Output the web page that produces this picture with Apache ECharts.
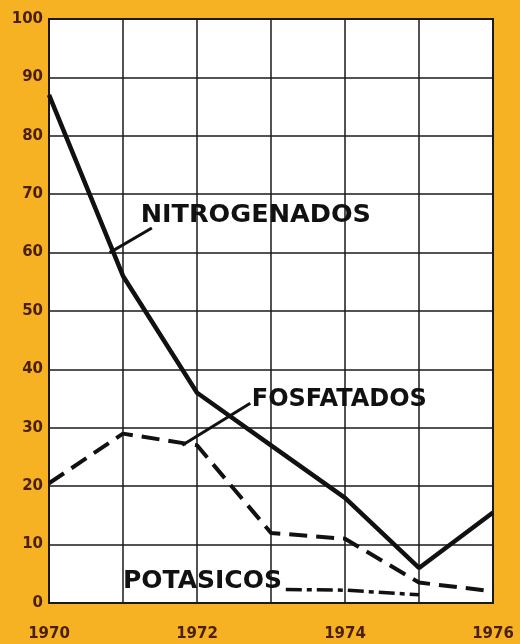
<!DOCTYPE html>
<html><head><meta charset="utf-8">
<script src="https://cdn.jsdelivr.net/npm/echarts@6/dist/echarts.min.js"></script>
<style>html,body{margin:0;padding:0;background:#F6B223;}#c{width:520px;height:644px;}</style>
</head><body><div id="c"></div>
<script>
var years = [1970, 1971, 1972, 1973, 1974, 1975, 1976];
var nitrogenados = [87, 56, 36, 27, 18, 6, 15.5];
var fosfatados = [20.5, 29, 27, 12, 11, 3.5, 2];
var potasicosYears = [1973.2, 1974, 1975];
var potasicos = [2.3, 2.2, 1.4];
var xTickLabels = ['1970', '', '1972', '', '1974', '', '1976'];
var yTicks = [0, 10, 20, 30, 40, 50, 60, 70, 80, 90, 100];

function pairs(xs, ys) { return xs.map(function (x, i) { return [x, ys[i]]; }); }

var chart = echarts.init(document.getElementById('c'), null, {renderer: 'canvas'});
var labelColor = '#4a1f08';
var option = {
  backgroundColor: '#F6B223',
  animation: false,
  grid: {left: 49, top: 19, right: 27, bottom: 41, show: true, backgroundColor: '#ffffff', borderColor: '#1a1a1a', borderWidth: 2},
  xAxis: {
    type: 'value', min: 1970, max: 1976, interval: 1,
    axisLine: {show: false}, axisTick: {show: false},
    splitLine: {show: true, lineStyle: {color: '#1a1a1a', width: 1.5}},
    axisLabel: {
      margin: 24, color: labelColor, fontSize: 15, fontWeight: 'bold', fontFamily: 'DejaVu Sans',
      formatter: function (v) { return xTickLabels[years.indexOf(v)] || ''; }
    }
  },
  yAxis: {
    type: 'value', min: yTicks[0], max: yTicks[yTicks.length - 1], interval: 10,
    axisLine: {show: false}, axisTick: {show: false},
    splitLine: {show: true, lineStyle: {color: '#1a1a1a', width: 1.5}},
    axisLabel: {margin: 6, color: labelColor, fontSize: 15, fontWeight: 'bold', fontFamily: 'DejaVu Sans'}
  },
  series: [
    {name: 'NITROGENADOS', type: 'line', data: pairs(years, nitrogenados), symbol: 'none',
      lineStyle: {color: '#111', width: 4.5}},
    {name: 'FOSFATADOS', type: 'line', data: pairs(years, fosfatados), symbol: 'none',
      lineStyle: {color: '#111', width: 4, type: [18, 9]}},
    {name: 'POTASICOS', type: 'line', data: pairs(potasicosYears, potasicos), symbol: 'none',
      lineStyle: {color: '#111', width: 3.5, type: [16, 5, 5, 5]}}
  ]
};
chart.setOption(option);

// annotations anchored in data space
function px(p) { return chart.convertToPixel({gridIndex: 0}, p); }
var annotations = [
  {text: 'NITROGENADOS', at: [1971.24, 66.3], lead: [[1971.39, 64.2], [1970.82, 60]], size: 25.5},
  {text: 'FOSFATADOS', at: [1972.74, 34.8], lead: [[1972.72, 34.2], [1971.8, 27]], size: 24},
  {text: 'POTASICOS', at: [1971.0, 3.6], lead: null, size: 25}
];
var graphics = [];
annotations.forEach(function (a) {
  var p = px(a.at);
  graphics.push({type: 'text', x: p[0], y: p[1], style: {text: a.text, fill: '#111', font: 'bold ' + a.size + 'px "DejaVu Sans"', textVerticalAlign: 'middle', textAlign: 'left'}, z: 10});
  if (a.lead) {
    var p1 = px(a.lead[0]), p2 = px(a.lead[1]);
    graphics.push({type: 'line', shape: {x1: p1[0], y1: p1[1], x2: p2[0], y2: p2[1]}, style: {stroke: '#111', lineWidth: 3}, z: 10});
  }
});
chart.setOption({graphic: graphics});
</script></body></html>
